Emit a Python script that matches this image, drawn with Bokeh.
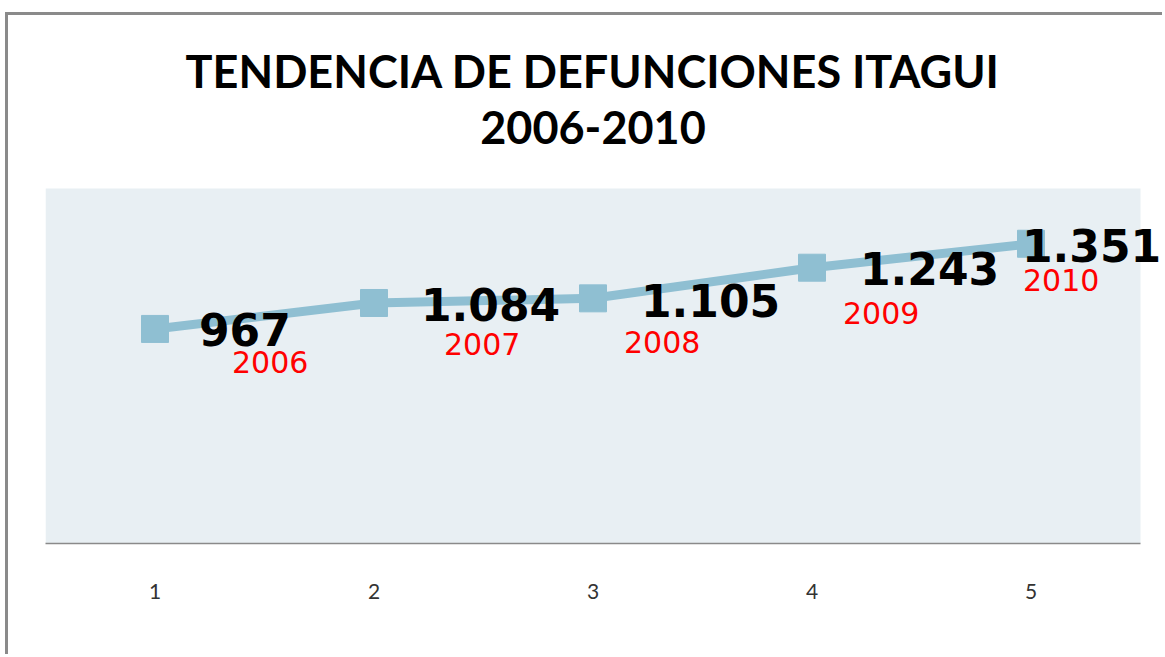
from bokeh.plotting import figure
from bokeh.models import ColumnDataSource, LabelSet, Label, Range1d, FixedTicker
from bokeh.core.properties import value
from bokeh.embed import file_html
from bokeh.resources import INLINE

# ---- data ----
points = [1, 2, 3, 4, 5]
deaths = [967, 1084, 1105, 1243, 1351]
years = ["2006", "2007", "2008", "2009", "2010"]
tick_labels = ["1", "2", "3", "4", "5"]
title_line1 = "TENDENCIA DE DEFUNCIONES ITAGUI"
title_line2 = "2006-2010"

# label styling (screen-pixel offsets)
val_dx = [44, 47, 48, 48, -9]
val_dy = [-1, -2, -2, -1, -2]
yr_dx = [77, 70, 31, 31, -8]
yr_dy = [-33, -41, -44, -45, -36]

src = ColumnDataSource(dict(
    x=points, y=deaths,
    vlab=[f"{v:,}".replace(",", ".") for v in deaths],
    ylab=years, vdx=val_dx, vdy=val_dy, ydx=yr_dx, ydy=yr_dy,
))

# layout (canvas pixels)
W, H = 1157, 642
LEFT, AREA_W = 37, 1095        # shaded plot area: left edge and width
AREA_TOP, AREA_H = 173, 355    # shaded plot area: top edge and height
X0, X1 = 0.5, 5.5              # category extent of the shaded area
Y0, Y1 = 0, 1600               # value extent of the shaded area
# the frame runs to the right edge and to the top so labels/titles are not clipped
x_end = X0 + (X1 - X0) * (W - LEFT) / AREA_W
y_end = Y1 + (Y1 - Y0) * AREA_TOP / AREA_H
px_y = (Y1 - Y0) / AREA_H      # value units per pixel

p = figure(width=W, height=H, output_backend="svg", toolbar_location=None,
           x_range=Range1d(X0, x_end), y_range=Range1d(Y0, y_end),
           min_border_left=LEFT, min_border_right=0, min_border_top=0,
           min_border_bottom=H - AREA_TOP - AREA_H)
p.styles = {"margin-left": "5px", "margin-top": "12px",
            "border-left": "3px solid #8a8a8a", "border-top": "3px solid #8a8a8a"}
p.background_fill_color = "white"
p.border_fill_color = "white"
p.outline_line_color = None
p.grid.visible = False
p.yaxis.visible = False

# shaded plot area
p.quad(left=[X0], right=[X1], bottom=[Y0], top=[Y1],
       fill_color="#E8EFF3", line_color=None)

xa = p.xaxis[0]
xa.bounds = (X0, X1)
xa.ticker = FixedTicker(ticks=points)
xa.major_label_overrides = {pt: lab for pt, lab in zip(points, tick_labels)}
xa.major_tick_line_color = None
xa.minor_tick_line_color = None
xa.axis_line_color = "#8a8a8a"
xa.axis_line_width = 1.5
xa.major_label_standoff = 34
xa.major_label_text_font = "Lato"
xa.major_label_text_font_size = "21px"
xa.major_label_text_color = "#333333"

col = "#8FBFD2"
p.line("x", "y", source=src, line_width=9, color=col)
p.scatter("x", "y", source=src, marker="square", size=27, color=col)

p.add_layout(LabelSet(x="x", y="y", text="vlab", source=src,
                      x_offset="vdx", y_offset="vdy",
                      text_font=value("DejaVu Sans"), text_font_style="bold",
                      text_font_size="44px", text_color="black",
                      text_align="left", text_baseline="middle"))
p.add_layout(LabelSet(x="x", y="y", text="ylab", source=src,
                      x_offset="ydx", y_offset="ydy",
                      text_font=value("DejaVu Sans"), text_font_size="30px",
                      text_color="#FF0000",
                      text_align="left", text_baseline="middle"))

# two-line title, centred over the shaded area
x_mid = (X0 + X1) / 2
for txt, gap_px in ((title_line1, 118), (title_line2, 61)):
    p.add_layout(Label(x=x_mid, y=Y1 + gap_px * px_y, text=txt,
                       text_font="Lato", text_font_style="bold",
                       text_font_size="45px", text_color="black",
                       text_align="center", text_baseline="alphabetic"))

open("out.html", "w").write(file_html(p, INLINE))
